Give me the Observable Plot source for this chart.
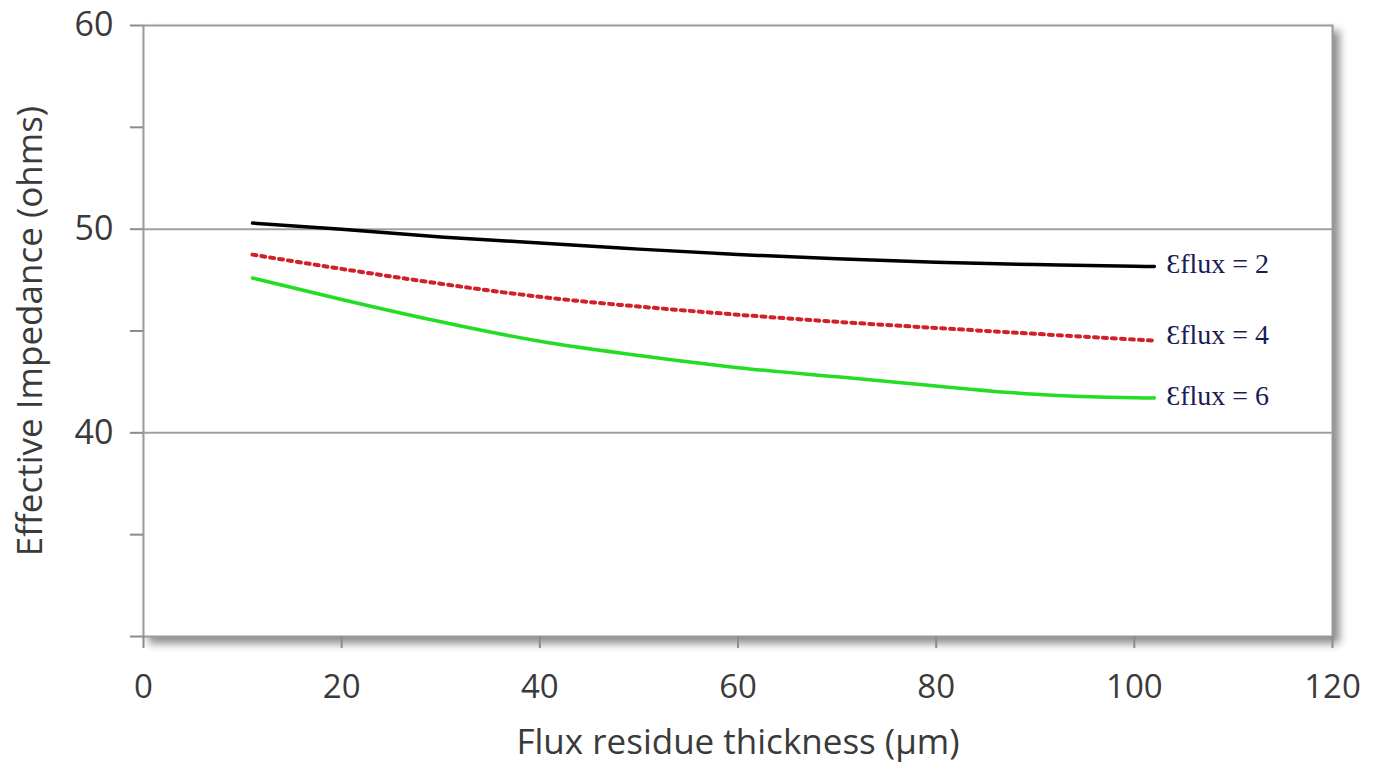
<!DOCTYPE html>
<html><head><meta charset="utf-8">
<script src="https://cdn.jsdelivr.net/npm/d3@7"></script>
<script src="https://cdn.jsdelivr.net/npm/@observablehq/plot@0.6"></script>
<style>body{margin:0;background:#fff;} #chart svg{display:block;}</style>
</head><body><div id="chart"></div>
<script>
const thickness = [11, 20, 30, 40, 50, 60, 70, 80, 90, 100, 102];
const eps2 = [50.3, 50.0, 49.62, 49.32, 49.02, 48.76, 48.55, 48.38, 48.26, 48.18, 48.17];
const eps4 = [48.75, 48.05, 47.32, 46.68, 46.2, 45.8, 45.45, 45.15, 44.86, 44.58, 44.53];
const eps6 = [47.6, 46.55, 45.45, 44.5, 43.8, 43.2, 42.75, 42.3, 41.9, 41.72, 41.72];
const seriesNames = ["Ɛflux = 2", "Ɛflux = 4", "Ɛflux = 6"];
const seriesColors = ["#000000", "#d0202a", "#22dd22"];
const xTicks = [0, 20, 40, 60, 80, 100, 120];
const yTicks = [30, 35, 40, 45, 50, 55, 60];
const yLabeled = [40, 50, 60];
const gridY = [40, 50];
const xTitle = "Flux residue thickness (µm)";
const yTitle = "Effective Impedance (ohms)";

const series = [eps2, eps4, eps6];
const rows = [];
series.forEach((vals, i) => vals.forEach((v, j) => rows.push({x: thickness[j], y: v, s: seriesNames[i]})));
const lastPts = series.map((vals, i) => ({x: thickness[thickness.length - 1], y: vals[vals.length - 1], s: seriesNames[i]}));
const byName = n => rows.filter(r => r.s === n);
const labelOpts = {x: "x", y: "y", text: "s", dx: 12, textAnchor: "start",
  fontFamily: "Liberation Serif, Times New Roman, serif", fontSize: 28, fill: "#1c1c55"};

const sans = "Open Sans, Lato, sans-serif";
const chart = Plot.plot({
  width: 1377, height: 769,
  marginLeft: 143, marginRight: 45, marginTop: 25, marginBottom: 133,
  style: {fontFamily: sans, background: "white", overflow: "visible"},
  x: {domain: [0, 120]},
  y: {domain: [30, 60]},
  marks: [
    Plot.frame({fill: "white", stroke: "#9a9a9a", strokeWidth: 2}),
    Plot.ruleY(gridY, {stroke: "#a0a0a0", strokeWidth: 2}),
    Plot.axisY({ticks: yTicks, tickSize: 13, tickPadding: 17, stroke: "#8c8c8c", strokeWidth: 2, fill: "#3a3a3a", fontSize: 34, label: null,
      tickFormat: d => yLabeled.includes(d) ? String(d) : ""}),
    Plot.axisX({ticks: xTicks, tickSize: 12, tickPadding: 26, stroke: "#8c8c8c", strokeWidth: 2, fill: "#3a3a3a", fontSize: 33, label: null}),
    Plot.line(byName(seriesNames[0]), {x: "x", y: "y", stroke: seriesColors[0], strokeWidth: 3.5, curve: "natural"}),
    Plot.line(byName(seriesNames[1]), {x: "x", y: "y", stroke: seriesColors[1], strokeWidth: 4, strokeDasharray: "4,5", curve: "natural"}),
    Plot.line(byName(seriesNames[2]), {x: "x", y: "y", stroke: seriesColors[2], strokeWidth: 3.5, curve: "natural"}),
    Plot.text(lastPts.filter(d => d.s !== seriesNames[1]), {...labelOpts, dy: -2}),
    Plot.text(lastPts.filter(d => d.s === seriesNames[1]), {...labelOpts, dy: -6}),
    Plot.text([xTitle], {frameAnchor: "bottom", dy: 117, fontSize: 35, fill: "#3a3a3a"}),
    Plot.text([yTitle], {frameAnchor: "left", rotate: -90, textAnchor: "middle", dx: -113, dy: 0, fontSize: 35, fill: "#3a3a3a"})
  ]
});
document.getElementById("chart").append(chart);
d3.select(chart).selectAll('[aria-label="frame"]').style("filter", "drop-shadow(6px 6px 4px rgba(0,0,0,0.45))");
</script>
</body></html>
